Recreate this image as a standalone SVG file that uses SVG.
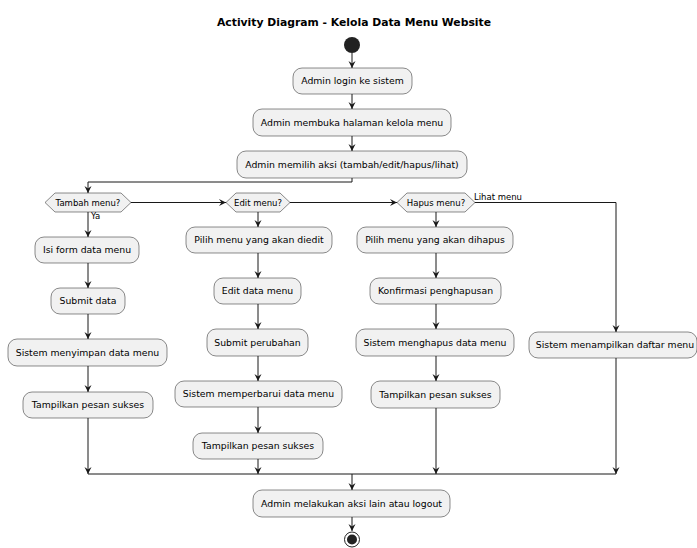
<svg xmlns="http://www.w3.org/2000/svg" width="697" height="548" viewBox="0 0 697 548">
<style>
.box{fill:#F1F1F1;stroke:#181818;stroke-width:0.5}
.t{font-family:"DejaVu Sans",sans-serif;font-size:9.3px;fill:#000;text-anchor:middle}
.d{font-family:"DejaVu Sans",sans-serif;font-size:8.5px;fill:#000;text-anchor:middle}
.l{font-family:"DejaVu Sans",sans-serif;font-size:8.5px;fill:#000}
.e{fill:none;stroke:#181818;stroke-width:1}
</style>
<defs>
<marker id="ah" markerUnits="userSpaceOnUse" markerWidth="8" markerHeight="8" refX="7" refY="3.5" orient="auto" viewBox="0 0 8 8">
<path d="M0,0 L7,3.5 L0,7 L2.5,3.5 Z" fill="#181818"/>
</marker>
</defs>
<rect width="697" height="548" fill="#fff"/>
<text x="354" y="26" style="font-family:'DejaVu Sans',sans-serif;font-weight:bold;font-size:10.8px;text-anchor:middle">Activity Diagram - Kelola Data Menu Website</text>

<g id="connectors">
<line class="e" x1="352" y1="53" x2="352" y2="68" marker-end="url(#ah)"/>
<line class="e" x1="352" y1="94" x2="352" y2="109" marker-end="url(#ah)"/>
<line class="e" x1="352" y1="136" x2="352" y2="151" marker-end="url(#ah)"/>
<path class="e" d="M352,178 V182 H88 V193" marker-end="url(#ah)"/>
<line class="e" x1="88" y1="212" x2="88" y2="237" marker-end="url(#ah)"/>
<line class="e" x1="131" y1="202.5" x2="226" y2="202.5" marker-end="url(#ah)"/>
<line class="e" x1="258" y1="212" x2="258" y2="227" marker-end="url(#ah)"/>
<line class="e" x1="290" y1="202.5" x2="397" y2="202.5" marker-end="url(#ah)"/>
<line class="e" x1="436" y1="212" x2="436" y2="227" marker-end="url(#ah)"/>
<path class="e" d="M475,202.5 H616 V332" marker-end="url(#ah)"/>
<line class="e" x1="88" y1="263" x2="88" y2="288" marker-end="url(#ah)"/>
<line class="e" x1="88" y1="314" x2="88" y2="339" marker-end="url(#ah)"/>
<line class="e" x1="88" y1="366" x2="88" y2="392" marker-end="url(#ah)"/>
<line class="e" x1="88" y1="418" x2="88" y2="474" marker-end="url(#ah)"/>
<line class="e" x1="258" y1="253" x2="258" y2="278" marker-end="url(#ah)"/>
<line class="e" x1="258" y1="304" x2="258" y2="329" marker-end="url(#ah)"/>
<line class="e" x1="258" y1="356" x2="258" y2="381" marker-end="url(#ah)"/>
<line class="e" x1="258" y1="407" x2="258" y2="433" marker-end="url(#ah)"/>
<line class="e" x1="258" y1="459" x2="258" y2="474" marker-end="url(#ah)"/>
<line class="e" x1="436" y1="253" x2="436" y2="278" marker-end="url(#ah)"/>
<line class="e" x1="436" y1="304" x2="436" y2="329" marker-end="url(#ah)"/>
<line class="e" x1="436" y1="356" x2="436" y2="381" marker-end="url(#ah)"/>
<line class="e" x1="436" y1="408" x2="436" y2="474" marker-end="url(#ah)"/>
<line class="e" x1="616" y1="358" x2="616" y2="474" marker-end="url(#ah)"/>
<line class="e" x1="88" y1="474" x2="616" y2="474"/>
<line class="e" x1="352" y1="474" x2="352" y2="490" marker-end="url(#ah)"/>
<line class="e" x1="352" y1="517" x2="352" y2="531" marker-end="url(#ah)"/>
<text class="l" x="91" y="219">Ya</text>
<text class="l" x="474" y="199.5">Lihat menu</text>
</g>

<g id="start"><circle cx="352" cy="45" r="8" fill="#222"/></g>

<g id="login"><rect class="box" x="293" y="68" width="119" height="26" rx="9"/><text class="t" x="352.5" y="84.3">Admin login ke sistem</text></g>
<g id="buka"><rect class="box" x="253" y="109" width="198" height="27" rx="9"/><text class="t" x="352" y="125.8">Admin membuka halaman kelola menu</text></g>
<g id="pilih"><rect class="box" x="237" y="151" width="230" height="27" rx="9"/><text class="t" x="352" y="167.8">Admin memilih aksi (tambah/edit/hapus/lihat)</text></g>

<g id="tambah"><polygon class="box" points="45,202.5 55,193 121,193 131,202.5 121,212 55,212"/><text class="d" x="88" y="205.5">Tambah menu?</text></g>
<g id="edit"><polygon class="box" points="226,202.5 236,193 280,193 290,202.5 280,212 236,212"/><text class="d" x="258" y="205.5">Edit menu?</text></g>
<g id="hapus"><polygon class="box" points="397,202.5 407,193 465,193 475,202.5 465,212 407,212"/><text class="d" x="436" y="205.5">Hapus menu?</text></g>

<g id="isiform"><rect class="box" x="35" y="237" width="104" height="26" rx="9"/><text class="t" x="87" y="253.3">Isi form data menu</text></g>
<g id="submitdata"><rect class="box" x="51" y="288" width="74" height="26" rx="9"/><text class="t" x="88" y="304.3">Submit data</text></g>
<g id="simpan"><rect class="box" x="8" y="339" width="159" height="27" rx="9"/><text class="t" x="87.5" y="355.8">Sistem menyimpan data menu</text></g>
<g id="sukses1"><rect class="box" x="23" y="392" width="130" height="26" rx="9"/><text class="t" x="88" y="408.3">Tampilkan pesan sukses</text></g>

<g id="pilihedit"><rect class="box" x="186" y="227" width="146" height="26" rx="9"/><text class="t" x="259" y="243.3">Pilih menu yang akan diedit</text></g>
<g id="editdata"><rect class="box" x="214" y="278" width="87" height="26" rx="9"/><text class="t" x="257.5" y="294.3">Edit data menu</text></g>
<g id="submitubah"><rect class="box" x="207" y="329" width="101" height="27" rx="9"/><text class="t" x="257.5" y="345.8">Submit perubahan</text></g>
<g id="perbarui"><rect class="box" x="175" y="381" width="167" height="26" rx="9"/><text class="t" x="258.5" y="397.3">Sistem memperbarui data menu</text></g>
<g id="sukses2"><rect class="box" x="193" y="433" width="130" height="26" rx="9"/><text class="t" x="258" y="449.3">Tampilkan pesan sukses</text></g>

<g id="pilihhapus"><rect class="box" x="357" y="227" width="156" height="26" rx="9"/><text class="t" x="435" y="243.3">Pilih menu yang akan dihapus</text></g>
<g id="konfirmasi"><rect class="box" x="370" y="278" width="131" height="26" rx="9"/><text class="t" x="435.5" y="294.3">Konfirmasi penghapusan</text></g>
<g id="menghapus"><rect class="box" x="356" y="329" width="158" height="27" rx="9"/><text class="t" x="435" y="345.8">Sistem menghapus data menu</text></g>
<g id="sukses3"><rect class="box" x="371" y="381" width="129" height="27" rx="9"/><text class="t" x="435.5" y="397.8">Tampilkan pesan sukses</text></g>

<g id="daftar"><rect class="box" x="529" y="332" width="168" height="26" rx="9"/><text class="t" x="615" y="348.3">Sistem menampilkan daftar menu</text></g>

<g id="akhir"><rect class="box" x="253" y="490" width="197" height="27" rx="9"/><text class="t" x="351.5" y="506.8">Admin melakukan aksi lain atau logout</text></g>

<g id="end"><circle cx="352" cy="539.5" r="7.5" fill="none" stroke="#222" stroke-width="1"/><circle cx="352" cy="539.5" r="5" fill="#222"/></g>
</svg>
